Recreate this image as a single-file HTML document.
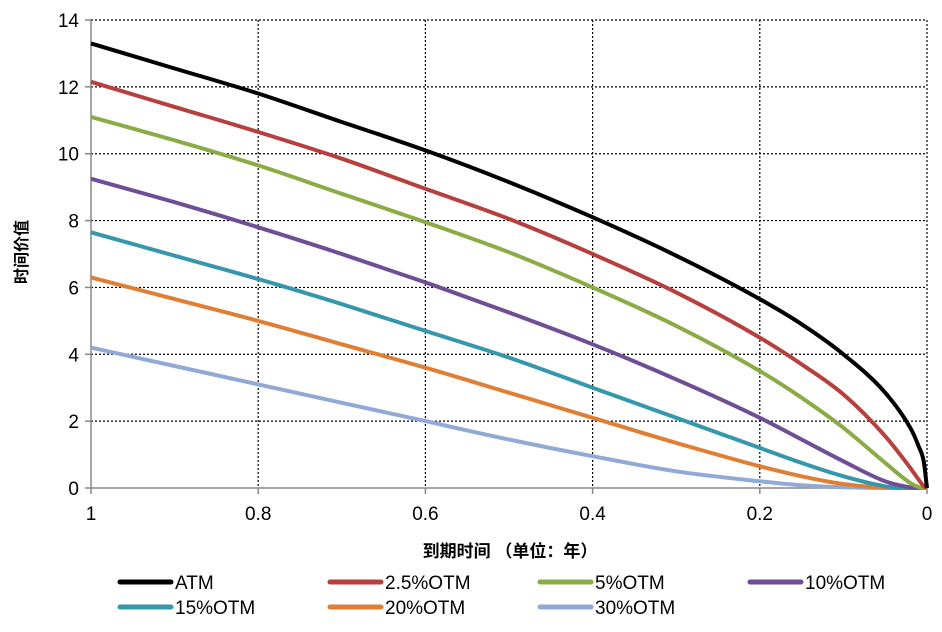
<!DOCTYPE html>
<html><head><meta charset="utf-8"><style>
body{margin:0;background:#fff;}
svg text{font-family:"Liberation Sans","Noto Sans CJK SC",sans-serif;}
</style></head><body>
<svg id="chart" width="942" height="627" xmlns="http://www.w3.org/2000/svg">
<g id="grid"></g>
<g id="axes"></g>
<g id="series"></g>
<g id="legend"></g>
<text x="510" y="557" font-size="17" text-anchor="middle" font-weight="bold">到期时间 （单位：年）</text>
<text transform="translate(27,252) rotate(-90)" font-size="16" text-anchor="middle" font-weight="bold">时间价值</text>
</svg>
<script>
const tValues=[1,0.9,0.8,0.7,0.6,0.5,0.4,0.3,0.2,0.15,0.1,0.05,0.02,0.01,0.004,0];
const seriesNames=["ATM","2.5%OTM","5%OTM","10%OTM","15%OTM","20%OTM","30%OTM"];
const atm=[13.3,12.55,11.8,10.95,10.1,9.15,8.1,6.95,5.65,4.9,4.0,2.85,1.8,1.25,0.8,0];
const otm25=[12.15,11.4,10.65,9.85,8.95,8.05,7.0,5.85,4.5,3.7,2.8,1.55,0.6,0.25,0.06,0];
const otm5=[11.1,10.4,9.65,8.8,7.95,7.05,6.0,4.85,3.5,2.7,1.8,0.75,0.15,0.03,0,0];
const otm10=[9.25,8.55,7.8,7.0,6.15,5.25,4.3,3.25,2.1,1.45,0.8,0.2,0.02,0,0,0];
const otm15=[7.65,6.95,6.25,5.5,4.7,3.9,3.0,2.1,1.2,0.75,0.35,0.05,0,0,0,0];
const otm20=[6.3,5.65,5.0,4.3,3.6,2.85,2.1,1.35,0.65,0.35,0.12,0.01,0,0,0,0];
const otm30=[4.2,3.65,3.1,2.55,2.0,1.45,0.95,0.5,0.2,0.08,0.02,0,0,0,0,0];
const yTicks=[0,2,4,6,8,10,12,14];
const xTicks=[1,0.8,0.6,0.4,0.2,0];
const xTickLabels=["1","0.8","0.6","0.4","0.2","0"];

const colors=["#000000","#b7403f","#8aab45","#6f4e95","#3597ad","#e07f33","#90a9d6"];
const allSeries=[atm,otm25,otm5,otm10,otm15,otm20,otm30];
const NS="http://www.w3.org/2000/svg";
const X0=91,X1=927,Y0=488,Y1=20;
const xs=t=>X0+(1-t)*(X1-X0);
const ys=v=>Y0-v/14*(Y0-Y1);
function mk(tag,attrs,parent){const e=document.createElementNS(NS,tag);for(const k in attrs)e.setAttribute(k,attrs[k]);parent.appendChild(e);return e;}
function monoPath(px,py){
  const n=px.length,d=[],m=[];
  for(let i=0;i<n-1;i++)d.push((py[i+1]-py[i])/(px[i+1]-px[i]));
  m[0]=d[0];m[n-1]=d[n-2];
  for(let i=1;i<n-1;i++){m[i]=(d[i-1]*d[i]<=0)?0:(d[i-1]+d[i])/2;}
  for(let i=0;i<n-1;i++){if(d[i]===0){m[i]=0;m[i+1]=0;continue;}
    const a=m[i]/d[i],b=m[i+1]/d[i],s=a*a+b*b;if(s>9){const t=3/Math.sqrt(s);m[i]=t*a*d[i];m[i+1]=t*b*d[i];}}
  let p='M'+px[0].toFixed(1)+','+py[0].toFixed(1);
  for(let i=0;i<n-1;i++){const h=(px[i+1]-px[i])/3;
    p+=' C'+(px[i]+h).toFixed(1)+','+(py[i]+m[i]*h).toFixed(1)+' '+(px[i+1]-h).toFixed(1)+','+(py[i+1]-m[i+1]*h).toFixed(1)+' '+px[i+1].toFixed(1)+','+py[i+1].toFixed(1);}
  return p;
}
const grid=document.getElementById('grid'),axes=document.getElementById('axes'),ser=document.getElementById('series'),leg=document.getElementById('legend');
yTicks.forEach(v=>{
  if(v>0){const l=mk('line',{x1:X0,x2:X1,y1:ys(v),y2:ys(v),stroke:'#000','stroke-width':1.2,'stroke-dasharray':'2,2'},grid);
  
  }
  const tk=mk('line',{x1:X0-6,x2:X0,y1:ys(v),y2:ys(v),stroke:'#888','stroke-width':1.5},axes);
  
  
  const tx=mk('text',{x:X0-12,y:ys(v)+7,'font-size':19,'text-anchor':'end'},axes);tx.textContent=v;
  
  
});
xTicks.forEach((t,i)=>{
  if(t<1){const l=mk('line',{x1:xs(t),x2:xs(t),y1:Y1,y2:Y0,stroke:'#000','stroke-width':1.2,'stroke-dasharray':'2,2'},grid);
  
  }
  const tk=mk('line',{x1:xs(t),x2:xs(t),y1:Y0,y2:Y0+6,stroke:'#888','stroke-width':1.5},axes);
  
  
  const tx=mk('text',{x:xs(t),y:Y0+32,'font-size':19,'text-anchor':'middle'},axes);tx.textContent=xTickLabels[i];
  
  
});
const ya=mk('line',{x1:X0,x2:X0,y1:Y1,y2:Y0,stroke:'#888','stroke-width':1.5},axes);


const xa=mk('line',{x1:X0,x2:X1,y1:Y0,y2:Y0,stroke:'#888','stroke-width':1.5},axes);


for(let s=allSeries.length-1;s>=0;s--){
  const px=tValues.map(xs),py=allSeries[s].map(ys);
  const p=mk('path',{d:monoPath(px,py),fill:'none',stroke:colors[s],'stroke-width':4,'stroke-linejoin':'round'},ser);
  
  
}
const legX=[120,330,540,750];
seriesNames.forEach((n,i)=>{
  const x=legX[i%4],y=i<4?582:607;
  const g=mk('g',{},leg);
  
  
  mk('line',{x1:x,x2:x+51,y1:y,y2:y,stroke:colors[i],'stroke-width':5,'stroke-linecap':'round'},g);
  const tx=mk('text',{x:x+55,y:y+7,'font-size':19},g);tx.textContent=n;
});
</script>
</body></html>
